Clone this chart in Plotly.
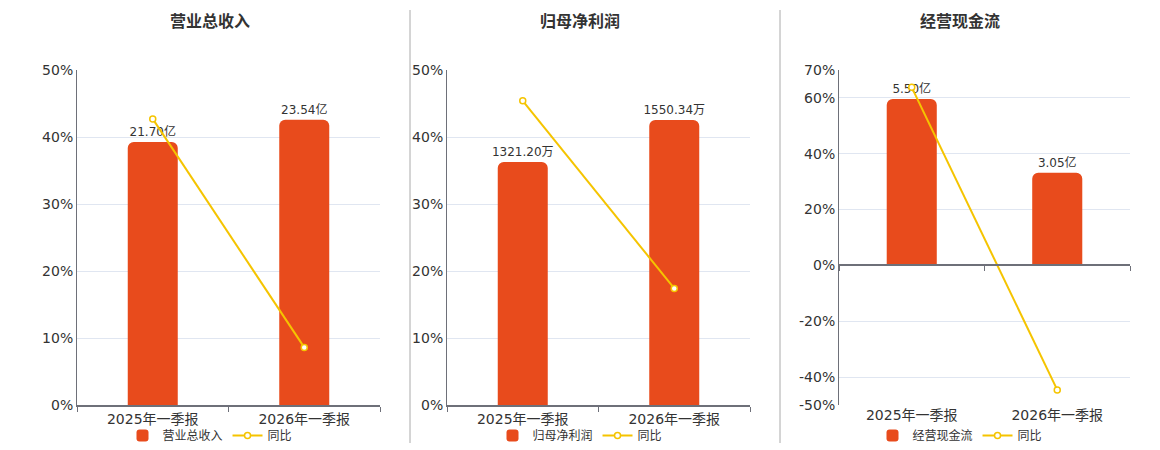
import plotly.graph_objects as go

# data
periods = ["2025年一季报", "2026年一季报"]

titles = ["营业总收入", "归母净利润", "经营现金流"]

revenue = [21.70, 23.54]          # 亿
revenue_yoy = [42.7, 8.6]         # %
net_profit = [1321.20, 1550.34]   # 万
net_profit_yoy = [45.4, 17.4]     # %
cash_flow = [5.50, 3.05]          # 亿
cash_flow_yoy = [63.8, -44.6]     # %

units = ["亿", "万", "亿"]
pct_ticks = [
    [0, 10, 20, 30, 40, 50],
    [0, 10, 20, 30, 40, 50],
    [-50, -40, -20, 0, 20, 40, 60, 70],
]

BAR = "#e84b1c"
LINE = "#f5c400"
AXIS = "#6e7079"
GRID = "#e0e6f1"
TXT = "#333333"
FONT = "DejaVu Sans, Noto Sans CJK SC, sans-serif"

W, H = 1160, 450
# plot areas in pixels (left, right), shared top/bottom
areas = [(77, 380), (447, 750), (839, 1130)]
top_px, bot_px = 70, 405
centers = [210, 580, 960]
ydom = [(H - bot_px) / H, (H - top_px) / H]

bar_vals = [revenue, net_profit, cash_flow]
yoy_vals = [revenue_yoy, net_profit_yoy, cash_flow_yoy]
pct_ranges = [[0, 50], [0, 50], [-50, 70]]
bar_ranges = [[0, 27.65], [0, 1822], [-4.65, 6.46]]
bar_widths = [0.33, 0.33, 0.344]

fig = go.Figure()
layout = {}

for i in range(3):
    n = i + 1
    xa = "x" if n == 1 else f"x{n}"
    ya = "y" if n == 1 else f"y{n}"
    yp = f"y{n + 3}"
    leg = "legend" if n == 1 else f"legend{n}"

    labels = [f"{v:.2f}{units[i]}" for v in bar_vals[i]]
    fig.add_trace(go.Bar(
        x=periods, y=bar_vals[i], name=titles[i],
        xaxis=xa, yaxis=ya, legend=leg,
        width=bar_widths[i],
        marker=dict(color=BAR, cornerradius=6, line=dict(width=0)),
        text=labels, textposition="outside", constraintext="none",
        cliponaxis=False,
        textfont=dict(size=12, color=TXT, family=FONT),
        hoverinfo="skip",
    ))
    fig.add_trace(go.Scatter(
        x=periods, y=yoy_vals[i], name="同比", mode="lines+markers",
        xaxis=xa, yaxis=yp, legend=leg,
        line=dict(color=LINE, width=2),
        marker=dict(symbol="circle", size=6, color="white",
                    line=dict(color=LINE, width=1.5)),
        cliponaxis=False,
        hoverinfo="skip",
    ))

    l, r = areas[i]
    xkey = "xaxis" if n == 1 else f"xaxis{n}"
    layout[xkey] = dict(
        domain=[l / W, r / W], anchor=ya, type="category",
        showline=(i < 2), linecolor=AXIS, linewidth=2,
        ticks="outside" if i < 2 else "", tickson="boundaries",
        ticklen=5, tickcolor=AXIS,
        showgrid=False, zeroline=False, automargin=False,
        tickfont=dict(size=14, color=TXT, family=FONT),
        fixedrange=True,
    )
    ykey = "yaxis" if n == 1 else f"yaxis{n}"
    layout[ykey] = dict(
        domain=ydom, anchor=xa, range=bar_ranges[i], visible=False,
        showgrid=False, zeroline=False, fixedrange=True, automargin=False,
    )
    layout[f"yaxis{n + 3}"] = dict(
        domain=ydom, anchor=xa, overlaying=ya, side="left",
        range=pct_ranges[i], tickvals=pct_ticks[i],
        ticktext=[f"{t}%" for t in pct_ticks[i]],
        showline=True, linecolor=AXIS, linewidth=1,
        showgrid=True, gridcolor=GRID, gridwidth=1,
        zeroline=(i == 2), zerolinecolor=AXIS, zerolinewidth=2,
        ticks="", automargin=False,
        tickfont=dict(size=14, color=TXT, family=FONT),
        fixedrange=True,
    )
    layout[leg] = dict(
        orientation="h", x=centers[i] / W, xanchor="center",
        y=0, yanchor="bottom",
        font=dict(size=12, color=TXT, family=FONT),
        bgcolor="rgba(0,0,0,0)", itemwidth=30,
        tracegroupgap=0,
    )

# tick marks on the zero-crossing category axis of the cash flow panel
zero_pos = ydom[0] + (0 - pct_ranges[2][0]) / (pct_ranges[2][1] - pct_ranges[2][0]) * (ydom[1] - ydom[0])
fig.add_trace(go.Scatter(x=[], y=[], xaxis="x4", yaxis="y6",
                         showlegend=False, hoverinfo="skip"))
layout["xaxis4"] = dict(
    overlaying="x3", anchor="free", position=zero_pos,
    range=[-0.5, 1.5], tickvals=[-0.5, 0.5, 1.5], showticklabels=False,
    showline=True, linecolor=AXIS, linewidth=2,
    ticks="outside", ticklen=5, tickcolor=AXIS,
    showgrid=False, zeroline=False, fixedrange=True, automargin=False,
)

annotations = []
for i in range(3):
    annotations.append(dict(
        text=f"<b>{titles[i]}</b>", x=centers[i] / W, y=(H - 22) / H,
        xref="paper", yref="paper", showarrow=False,
        xanchor="center", yanchor="middle",
        font=dict(size=16, color=TXT, family=FONT),
    ))

shapes = []
for sx in (410, 780):
    shapes.append(dict(
        type="line", xref="paper", yref="paper",
        x0=sx / W, x1=sx / W, y0=(H - 10) / H, y1=(H - 443) / H,
        line=dict(color="#aaaaaa", width=1),
    ))

fig.update_layout(
    width=W, height=H,
    margin=dict(l=0, r=0, t=0, b=0, pad=0),
    paper_bgcolor="white", plot_bgcolor="white",
    font=dict(family=FONT, color=TXT),
    barmode="group",
    annotations=annotations, shapes=shapes,
    **layout,
)

fig.write_html("out.html", config={"displayModeBar": False},
               post_script="document.body.style.margin='0px';")
